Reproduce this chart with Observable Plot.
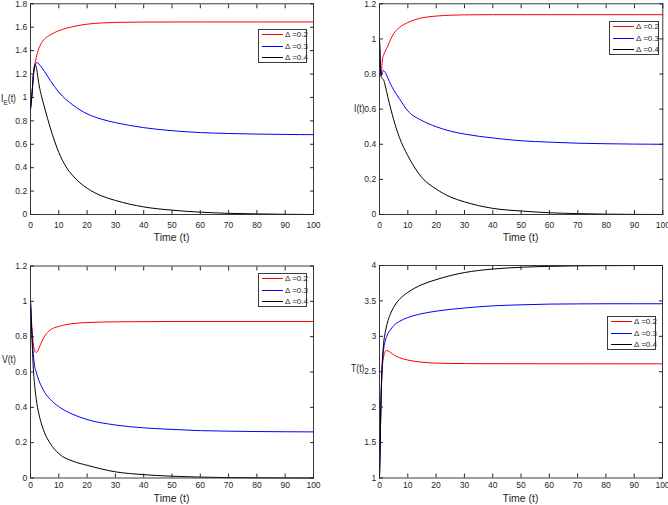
<!DOCTYPE html>
<html>
<head>
<meta charset="utf-8">
<script src="https://cdn.jsdelivr.net/npm/d3@7"></script>
<script src="https://cdn.jsdelivr.net/npm/@observablehq/plot@0.6"></script>
<style>
  html, body { margin: 0; padding: 0; background: #fff; }
  #root { position: relative; width: 668px; height: 505px; overflow: hidden;
          font-family: "Liberation Sans", Arial, sans-serif; color: #262626; }
  .panel { position: absolute; }
  .lab { position: absolute; font-size: 10.5px; line-height: 12px; white-space: nowrap; color: #262626; }
  .ylab { transform: scaleX(0.82); transform-origin: 0 50%; }
  .lab sub { font-size: 8px; vertical-align: -3px; line-height: 0; }
  .legend { position: absolute; border: 1px solid #3a3a3a; background: #fff; box-sizing: border-box; }
  .legend .row { position: absolute; left: 3px; height: 10px; display: flex; align-items: center; font-size: 8px; white-space: nowrap; }
  .legend .sw { display: inline-block; width: 21px; height: 0; border-top: 1px solid; margin-right: 2px; }
</style>
</head>
<body>
<div id="root"></div>
<script>
// ---------- shared ----------
const xTicks = [0, 10, 20, 30, 40, 50, 60, 70, 80, 90, 100];
const deltaLabels = ["\u0394 =0.2", "\u0394 =0.3", "\u0394 =0.4"];
const lineColors = ["#ff0000", "#0000ff", "#000000"];
const xTitle = "Time (t)";

// ---------- panel 1 : I_E(t) ----------
const ieTicks = [0, 0.2, 0.4, 0.6, 0.8, 1, 1.2, 1.4, 1.6, 1.8];
const ie_t_02 = [0, 0.5, 1, 1.5, 2, 3, 4, 5, 7, 10, 15, 20, 25, 30, 40, 60, 100];
const ie_v_02 = [0.9, 1.02, 1.18, 1.28, 1.34, 1.42, 1.47, 1.50, 1.535, 1.57, 1.605, 1.626, 1.636, 1.641, 1.644, 1.645, 1.645];
const ie_t_03 = [0, 0.5, 1, 1.5, 2, 2.5, 3, 4, 5, 7, 10, 15, 20, 25, 30, 40, 50, 60, 70, 80, 90, 100];
const ie_v_03 = [0.9, 1.02, 1.18, 1.27, 1.295, 1.297, 1.285, 1.255, 1.22, 1.145, 1.045, 0.935, 0.86, 0.815, 0.785, 0.742, 0.716, 0.70, 0.692, 0.687, 0.684, 0.682];
const ie_t_04 = [0, 0.5, 1, 1.5, 1.7, 2, 3, 4, 5, 7, 10, 12.5, 15, 20, 25, 30, 40, 50, 60, 70, 80, 90, 100];
const ie_v_04 = [0.9, 1.02, 1.2, 1.275, 1.28, 1.26, 1.11, 1.0, 0.91, 0.74, 0.53, 0.41, 0.33, 0.225, 0.16, 0.12, 0.065, 0.037, 0.02, 0.01, 0.005, 0.002, 0.0];

// ---------- panel 2 : I(t) ----------
const iTicks = [0, 0.2, 0.4, 0.6, 0.8, 1, 1.2];
const i_t_02 = [0, 0.3, 0.6, 1, 1.5, 2, 3, 4, 5, 7, 10, 15, 20, 25, 30, 40, 100];
const i_v_02 = [1.0, 0.85, 0.80, 0.88, 0.91, 0.93, 0.962, 1.0, 1.03, 1.065, 1.093, 1.12, 1.13, 1.135, 1.137, 1.138, 1.138];
const i_t_03 = [0, 0.3, 0.6, 1, 1.3, 1.6, 2, 3, 4, 5, 7, 10, 15, 20, 25, 30, 40, 50, 60, 70, 80, 90, 100];
const i_v_03 = [1.0, 0.85, 0.79, 0.81, 0.82, 0.818, 0.81, 0.775, 0.74, 0.71, 0.66, 0.59, 0.535, 0.50, 0.475, 0.458, 0.436, 0.42, 0.412, 0.406, 0.403, 0.401, 0.40];
const i_t_04 = [0, 0.3, 0.6, 1, 1.5, 2, 3, 4, 5, 7, 10, 15, 20, 25, 30, 40, 50, 60, 70, 80, 100];
const i_v_04 = [1.0, 0.84, 0.78, 0.775, 0.765, 0.735, 0.665, 0.6, 0.54, 0.44, 0.335, 0.21, 0.145, 0.10, 0.072, 0.035, 0.02, 0.01, 0.005, 0.002, 0.0];

// ---------- panel 3 : V(t) ----------
const vTicks = [0, 0.2, 0.4, 0.6, 0.8, 1, 1.2];
const v_t_02 = [0, 0.5, 1, 1.5, 2, 2.5, 3, 4, 5, 7, 10, 15, 20, 30, 50, 100];
const v_v_02 = [1.0, 0.85, 0.76, 0.72, 0.711, 0.715, 0.735, 0.772, 0.803, 0.838, 0.858, 0.874, 0.880, 0.884, 0.886, 0.886];
const v_t_03 = [0, 0.5, 1, 1.5, 2, 3, 4, 5, 7, 10, 15, 20, 30, 40, 50, 60, 70, 80, 100];
const v_v_03 = [1.0, 0.82, 0.70, 0.63, 0.60, 0.55, 0.515, 0.485, 0.445, 0.404, 0.36, 0.331, 0.30, 0.284, 0.275, 0.268, 0.265, 0.263, 0.261];
const v_t_04 = [0, 0.5, 1, 1.5, 2, 3, 4, 5, 7, 10, 15, 20, 30, 40, 50, 60, 80, 100];
const v_v_04 = [1.0, 0.80, 0.62, 0.52, 0.45, 0.36, 0.30, 0.255, 0.195, 0.138, 0.095, 0.072, 0.035, 0.019, 0.01, 0.005, 0.001, 0.0];

// ---------- panel 4 : T(t) ----------
const tTicks = [1, 1.5, 2, 2.5, 3, 3.5, 4];
const t_t_02 = [0, 0.25, 0.5, 0.75, 1, 1.5, 2, 2.5, 3, 4, 5, 7, 10, 15, 20, 30, 50, 100];
const t_v_02 = [1.0, 1.5, 2.0, 2.35, 2.55, 2.72, 2.78, 2.80, 2.795, 2.77, 2.74, 2.70, 2.665, 2.635, 2.622, 2.615, 2.613, 2.612];
const t_t_03 = [0, 0.25, 0.5, 0.75, 1, 1.5, 2, 3, 4, 5, 7, 10, 15, 20, 30, 40, 50, 60, 70, 80, 100];
const t_v_03 = [1.0, 1.5, 2.02, 2.38, 2.6, 2.83, 2.93, 3.04, 3.10, 3.15, 3.21, 3.265, 3.32, 3.355, 3.40, 3.43, 3.445, 3.455, 3.458, 3.46, 3.46];
const t_t_04 = [0, 0.25, 0.5, 0.75, 1, 1.5, 2, 3, 4, 5, 7, 10, 15, 20, 30, 40, 50, 60, 70, 80, 100];
const t_v_04 = [1.0, 1.5, 2.05, 2.42, 2.65, 2.92, 3.05, 3.22, 3.33, 3.41, 3.52, 3.62, 3.73, 3.80, 3.90, 3.95, 3.975, 3.988, 3.995, 3.998, 4.0];

// ---------- layout ----------
const panels = [
  { left: 0,   top: 0,   w: 334, h: 240, mL: 30, mR: 21,  mT: 3.3,  mB: 26,   xPad: 11.8,
    yDomain: [0, 1.8], yTicks: ieTicks,
    series: [[ie_t_02, ie_v_02], [ie_t_03, ie_v_03], [ie_t_04, ie_v_04]],
    legend: { left: 258, top: 29, w: 49, h: 34 },
    ylab: { html: "I<sub>E</sub>(t)", left: 1, cy: 98 },
    xlab: { cy: 237 } },
  { left: 334, top: 0,   w: 334, h: 240, mL: 45, mR: 5.7, mT: 3.3,  mB: 26,   xPad: 11.8,
    yDomain: [0, 1.2], yTicks: iTicks,
    series: [[i_t_02, i_v_02], [i_t_03, i_v_03], [i_t_04, i_v_04]],
    legend: { left: 609, top: 21, w: 50, h: 34 },
    ylab: { html: "I(t)", left: 354, cy: 108 },
    xlab: { cy: 237 } },
  { left: 0,   top: 250, w: 334, h: 255, mL: 30, mR: 21,  mT: 15.5, mB: 27.5, xPad: 8.3,
    yDomain: [0, 1.2], yTicks: vTicks,
    series: [[v_t_02, v_v_02], [v_t_03, v_v_03], [v_t_04, v_v_04]],
    legend: { left: 258, top: 273, w: 49, h: 34 },
    ylab: { html: "V(t)", left: 1.5, cy: 359 },
    xlab: { cy: 498 } },
  { left: 334, top: 250, w: 334, h: 255, mL: 45, mR: 6,   mT: 15,   mB: 27.5, xPad: 8.3,
    yDomain: [1, 4], yTicks: tTicks,
    series: [[t_t_02, t_v_02], [t_t_03, t_v_03], [t_t_04, t_v_04]],
    legend: { left: 607, top: 316, w: 49, h: 34 },
    ylab: { html: "T(t)", left: 350.5, cy: 368 },
    xlab: { cy: 498 } }
];

const root = document.getElementById("root");
const fmt = d => String(+(+d).toFixed(2));

function toRows(ts, vs, label) {
  return ts.map((t, i) => ({ t, v: vs[i], s: label }));
}

for (const p of panels) {
  const data = p.series.flatMap(([ts, vs], k) => toRows(ts, vs, deltaLabels[k]));
  const chart = Plot.plot({
    width: p.w, height: p.h,
    marginLeft: p.mL, marginRight: p.mR, marginTop: p.mT, marginBottom: p.mB,
    style: { fontFamily: "'Liberation Sans', Arial, sans-serif",
             fontSize: "8.5px", color: "#262626", background: "transparent", overflow: "visible" },
    x: { domain: [0, 100], label: null },
    y: { domain: p.yDomain, label: null },
    color: { domain: deltaLabels, range: lineColors },
    marks: [
      Plot.line(data, { x: "t", y: "v", z: "s", stroke: "s", strokeWidth: 1, curve: "monotone-x" }),
      Plot.frame({ stroke: "#262626", strokeWidth: 0.9 }),
      Plot.axisX(xTicks, { anchor: "bottom", tickSize: -4, tickPadding: p.xPad, tickFormat: fmt, label: null }),
      Plot.axisX(xTicks, { anchor: "top", tickSize: -4, tickFormat: () => "", label: null }),
      Plot.axisY(p.yTicks, { anchor: "left", tickSize: -4, tickPadding: 7.3, tickFormat: fmt, label: null }),
      Plot.axisY(p.yTicks, { anchor: "right", tickSize: -4, tickFormat: () => "", label: null })
    ]
  });
  const wrap = document.createElement("div");
  wrap.className = "panel";
  wrap.style.left = p.left + "px";
  wrap.style.top = p.top + "px";
  wrap.appendChild(chart);
  root.appendChild(wrap);

  // y label
  const yl = document.createElement("div");
  yl.className = "lab ylab";
  yl.innerHTML = p.ylab.html;
  yl.style.left = p.ylab.left + "px";
  yl.style.top = (p.ylab.cy - 6) + "px";
  root.appendChild(yl);

  // x label, centered under the frame
  const xl = document.createElement("div");
  xl.className = "lab";
  xl.textContent = xTitle;
  const fx0 = p.left + p.mL, fx1 = p.left + p.w - p.mR;
  xl.style.left = ((fx0 + fx1) / 2) + "px";
  xl.style.transform = "translateX(-50%)";
  xl.style.top = (p.xlab.cy - 6) + "px";
  root.appendChild(xl);

  // legend
  const lg = document.createElement("div");
  lg.className = "legend";
  lg.style.left = p.legend.left + "px";
  lg.style.top = p.legend.top + "px";
  lg.style.width = p.legend.w + "px";
  lg.style.height = p.legend.h + "px";
  deltaLabels.forEach((lab, k) => {
    const row = document.createElement("div");
    row.className = "row";
    row.style.top = (p.legend.h * (2 * k + 1) / 6 - 1 - 5) + "px";
    const sw = document.createElement("span");
    sw.className = "sw";
    sw.style.borderTopColor = lineColors[k];
    const tx = document.createElement("span");
    tx.textContent = lab;
    row.appendChild(sw);
    row.appendChild(tx);
    lg.appendChild(row);
  });
  root.appendChild(lg);
}
</script>
</body>
</html>
